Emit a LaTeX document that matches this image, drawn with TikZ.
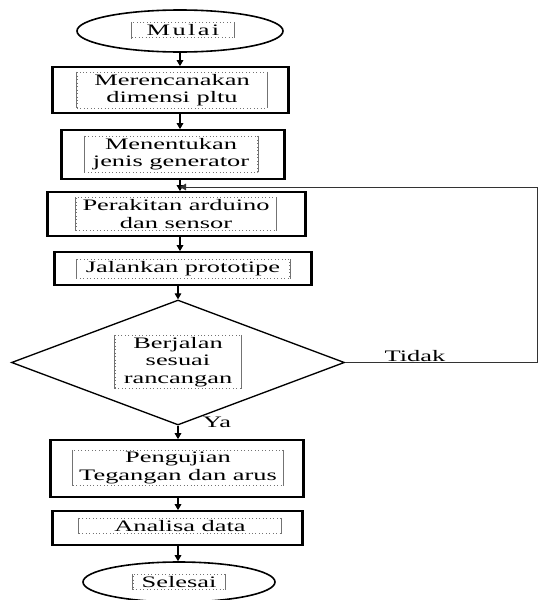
\documentclass[tikz,border=0pt]{standalone}
\usepackage{fontspec}
\setmainfont{Liberation Serif}[FakeStretch=1.65]
\usetikzlibrary{shapes.geometric,arrows.meta}
\begin{document}
\begin{tikzpicture}[x=0.75pt,y=-0.75pt,
  box/.style={draw, line width=1.3pt, inner sep=0pt,
    append after command={(\tikzlastnode.north west) edge[line width=2.2pt] (\tikzlastnode.south west)
      (\tikzlastnode.north east) edge[line width=2.2pt] (\tikzlastnode.south east)}},
  term/.style={draw, ellipse, line width=1.2pt, inner sep=0pt},
  decision/.style={draw, diamond, line width=1pt, inner sep=0pt},
  tframe/.style={draw=black!55, dotted, line width=0.6pt, align=center,
    inner xsep=3pt, inner ysep=1.5pt, font=\fontsize{12}{13}\selectfont,
    append after command={(\tikzlastnode.north west) edge[solid, draw=black!55, line width=0.5pt] (\tikzlastnode.south west)
      (\tikzlastnode.north east) edge[solid, draw=black!55, line width=0.5pt] (\tikzlastnode.south east)}},
  arr/.style={-{Triangle[length=4.5pt,width=5pt]}, line width=0.8pt},
  fb/.style={-{Triangle[length=4.5pt,width=5pt]}, line width=0.6pt, draw=black!80},
  lbl/.style={font=\fontsize{12}{13}\selectfont, inner sep=0pt}
]
\useasboundingbox (0,0) rectangle (540,600);

% shapes
\node[term, minimum width=154.5pt, minimum height=31.5pt] (mulai) at (180,31) {};
\node[box, minimum width=176.25pt, minimum height=34.5pt] (b1) at (170.5,90) {};
\node[box, minimum width=166.5pt, minimum height=36.75pt] (b2) at (173,154.5) {};
\node[box, minimum width=192.75pt, minimum height=33pt] (b3) at (176.5,214) {};
\node[box, minimum width=192pt, minimum height=24.75pt] (b4) at (183,268.5) {};
\node[decision, minimum width=249.75pt, minimum height=93.75pt] (dia) at (178,362.5) {};
\node[box, minimum width=189pt, minimum height=42.75pt] (b5) at (177,468.5) {};
\node[box, minimum width=186.75pt, minimum height=25.5pt] (b6) at (177.5,528) {};
\node[term, minimum width=144pt, minimum height=30pt] (selesai) at (179,582) {};

% text frames
\node[tframe, minimum width=77pt] (tmulai) at (183,30) {\addfontfeature{LetterSpace=15}Mulai};
\node[tframe, minimum width=142.5pt] (t1) at (172,90) {Merencanakan\\dimensi pltu};
\node[tframe, minimum width=130pt] (t2) at (171,154) {Menentukan\\jenis generator};
\node[tframe, minimum width=150pt] (t3) at (176,214) {Perakitan arduino\\dan sensor};
\node[tframe, minimum width=160pt] (t4) at (183,269) {Jalankan prototipe};
\node[tframe, minimum width=94.5pt] (td) at (178,362) {Berjalan\\sesuai\\rancangan};
\node[tframe, minimum width=158pt] (t5) at (178,468) {Pengujian\\Tegangan dan arus};
\node[tframe, minimum width=152pt] (t6) at (180,526) {Analisa data};
\node[tframe, minimum width=69pt] (tsel) at (179,582) {Selesai};

% labels
\node[lbl] (tidak) at (415,356) {Tidak};
\node[lbl] (ya) at (217,422) {Ya};

% connectors
\draw[arr] (mulai.south) -- (b1.north -| mulai);
\draw[arr] (b1.south -| mulai) -- (b2.north -| mulai);
\draw[arr] (b2.south -| mulai) -- (b3.north -| mulai);
\draw[arr] (b3.south -| mulai) -- (b4.north -| mulai);
\draw[arr] (b4.south -| dia.north) -- (dia.north);
\draw[arr] (dia.south) -- (b5.north -| dia.south);
\draw[arr] (b5.south -| dia.south) -- (b6.north -| dia.south);
\draw[arr] (b6.south -| dia.south) -- (selesai.north -| dia.south);

% feedback loop
\coordinate (fr) at (537,363);
\coordinate (ft) at (537,187);
\draw[fb] (dia.east) -- (dia.east -| fr) -- (ft) -- (ft -| mulai);
\end{tikzpicture}
\end{document}
